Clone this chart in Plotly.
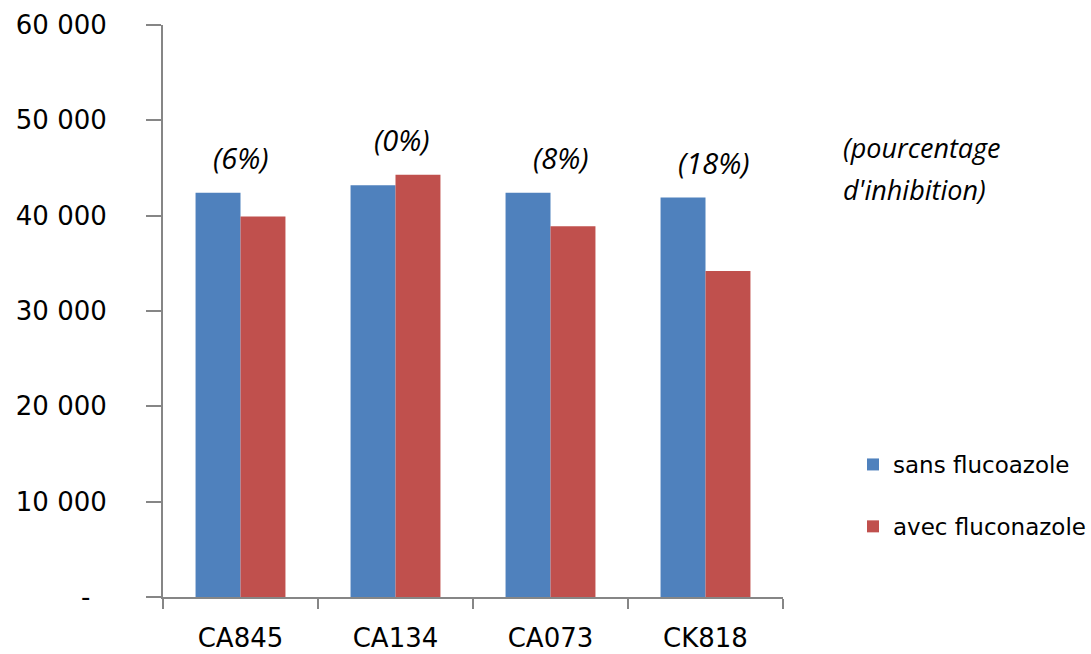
import plotly.graph_objects as go

# Souches testées et croissance mesurée (unités arbitraires)
souches = ["CA845", "CA134", "CA073", "CK818"]
sans_fluconazole = [42400, 43200, 42400, 41900]
avec_fluconazole = [39900, 44300, 38900, 34200]
inhibition_pct = [6, 0, 8, 18]

y_ticks = [0, 10000, 20000, 30000, 40000, 50000, 60000]
y_tick_labels = ["-\u00a0\u00a0", "10 000", "20 000", "30 000", "40 000", "50 000", "60 000"]

BLUE = "#4F81BD"
RED = "#C0504D"
AXIS = "#868686"
TICK_FONT = dict(family="DejaVu Sans", size=26, color="#000000")

fig = go.Figure()
fig.add_trace(go.Bar(
    x=souches, y=sans_fluconazole, name="sans flucoazole",
    marker=dict(color=BLUE, line=dict(width=0)), legendgroup="a",
))
fig.add_trace(go.Bar(
    x=souches, y=avec_fluconazole, name="avec fluconazole",
    marker=dict(color=RED, line=dict(width=0)), legendgroup="b",
))

# Pourcentage d'inhibition au-dessus de chaque paire de barres
x_nudge = [0, 6, 10, 8]
for s, a, b, p, dx in zip(souches, sans_fluconazole, avec_fluconazole, inhibition_pct, x_nudge):
    fig.add_annotation(
        x=s, y=max(a, b), text=f"({p}%)", showarrow=False,
        xanchor="center", yanchor="bottom", yshift=14, xshift=dx,
        font=dict(family="Open Sans", size=29, color="#000000", style="italic"),
    )

for txt, ypx in [("(pourcentage", 147), ("d'inhibition)", 190)]:
    fig.add_annotation(
        xref="paper", yref="paper", x=(841 - 163) / 620, y=(597 - ypx) / 572,
        text=txt, showarrow=False, xanchor="left", yanchor="middle",
        font=dict(family="Open Sans", size=27, color="#000000", style="italic"),
    )

fig.update_layout(
    width=1091, height=654,
    margin=dict(l=163, r=308, t=25, b=57, autoexpand=False),
    paper_bgcolor="white", plot_bgcolor="white",
    barmode="group", bargap=0.42, bargroupgap=0,
    showlegend=True,
    legend=dict(
        x=(853 - 163) / 620, y=(597 - 443) / 572, xanchor="left", yanchor="top",
        font=dict(family="DejaVu Sans", size=23, color="#000000"),
        tracegroupgap=29, bgcolor="rgba(0,0,0,0)",
    ),
    xaxis=dict(
        type="category", tickson="boundaries", ticks="outside", ticklen=10,
        tickcolor=AXIS, tickwidth=2, showline=True, linecolor=AXIS, linewidth=2,
        showgrid=False, tickfont=TICK_FONT, ticklabelstandoff=17, automargin=False,
    ),
    yaxis=dict(
        range=[0, 60000], tickmode="array", tickvals=y_ticks, ticktext=y_tick_labels,
        ticks="outside", ticklen=15, tickcolor=AXIS, tickwidth=2,
        showline=True, linecolor=AXIS, linewidth=2, showgrid=False, zeroline=False,
        tickfont=TICK_FONT, ticklabelstandoff=34, automargin=False,
    ),
)

fig.write_html("out.html")
